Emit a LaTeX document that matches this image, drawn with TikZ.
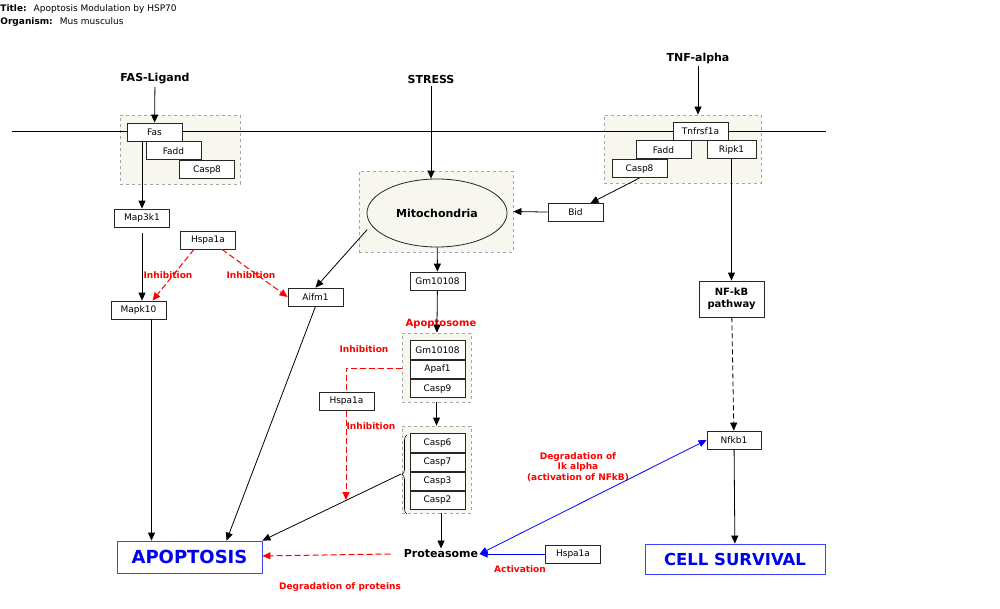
\documentclass[tikz,border=0pt]{standalone}
\usepackage{fontspec}
\setmainfont{DejaVu Sans}
\usetikzlibrary{arrows.meta,positioning,shapes.geometric,decorations.pathreplacing}
\definecolor{grpfill}{HTML}{F7F7F0}
\definecolor{outblue}{HTML}{0000EE}

\begin{document}
\begin{tikzpicture}
[x=1pt, y=-1pt, line width=0.8pt, font=\fontsize{9}{10}\selectfont,
>={Triangle[length=8pt,width=7pt]},
% STYLES
% The gene style is used for the small boxes with gene names
gene/.style={rectangle, draw=black!85, fill=white, minimum width=55pt, minimum height=18pt, inner sep=0pt},
% The complex style is used for the dashed grey groups
complex/.style={rectangle, draw=black!35, dashed, fill=grpfill, inner sep=0pt},
% The signal style is used for the inputs on top
signal/.style={inner sep=2pt, font=\bfseries\fontsize{11}{12}\selectfont},
% The remark style is used for the red texts
remark/.style={inner sep=1pt, text=red, align=center, font=\bfseries\fontsize{9}{10.5}\selectfont},
% The outcome style is used for the two blue results
outcome/.style={rectangle, draw=blue!75, text=outblue, inner sep=0pt, font=\bfseries\fontsize{17}{18}\selectfont},
inhib/.style={->, draw=red, line width=1pt, dash pattern=on 6pt off 3pt},
act/.style={blue}]

\useasboundingbox (0,0) rectangle (1000,608);

% Title
\node [anchor=west, inner sep=0pt, font=\fontsize{9}{10}\selectfont] (title) at (0,9) {\textbf{Title:}\hspace{7pt}Apoptosis Modulation by HSP70};
\node [anchor=west, inner sep=0pt, font=\fontsize{9}{10}\selectfont] (organism) at (0,22) {\textbf{Organism:}\hspace{7pt}Mus musculus};

% Draw complexes
\node [complex, minimum width=120pt, minimum height=69pt] (fasgrp) at (180,149.5) {};
\node [complex, minimum width=157pt, minimum height=68pt] (tnfgrp) at (682.5,149) {};
\node [complex, minimum width=154pt, minimum height=81pt] (mitogrp) at (436,211.5) {};
\node [complex, minimum width=69pt, minimum height=69pt] (apogrp) at (436.5,367.5) {};
\node [complex, minimum width=69pt, minimum height=87pt] (caspgrp) at (436.5,469.5) {};

% membrane
\coordinate (memL) at (12,131);
\coordinate (memR) at (826,131);
\draw (memL) -- (memR);

% Signals
\node [signal] (fasl) at (155,79) {FAS-Ligand};
\node [signal] (stress) at (431,79) {STRESS};
\node [signal] (tnfa) at (698,58) {TNF-alpha};

% FAS receptor
\node [gene] (fas) at (154.5,132) {Fas};
\node [gene, below=0pt of fas, xshift=19pt] (fadd1) {Fadd};
\node [gene, below=0pt of fadd1, xshift=33.5pt] (casp8a) {Casp8};

% TNF receptor
\node [gene] (tnfr) at (700.5,131) {Tnfrsf1a};
\node [gene, below=0pt of tnfr, xshift=-37pt] (fadd2) {Fadd};
\node [gene, minimum width=49pt, below=0pt of tnfr, xshift=31pt] (ripk) {Ripk1};
\node [gene, below=0pt of fadd2, xshift=-24pt] (casp8b) {Casp8};

% left branch
\node [gene] (map3k) at (142,218) {Map3k1};
\node [gene] (mapk) at (138.5,310) {Mapk10};
\node [gene] (hsp1) at (208,240) {Hspa1a};
\node [gene] (aifm) at (315.5,297) {Aifm1};

% mitochondria
\node [ellipse, draw=black!85, fill=grpfill, minimum width=140pt, minimum height=68pt, inner sep=0pt, font=\bfseries\fontsize{11}{12}\selectfont] (mito) at (437,213) {Mitochondria};
\node [gene] (bid) at (575.5,212.5) {Bid};
\node [gene] (gm) at (437.5,281) {Gm10108};

% apoptosome
\node [gene, minimum height=18.5pt] (gm2) at (437.5,350) {Gm10108};
\node [gene, minimum height=18.5pt, below=0pt of gm2] (apaf) {Apaf1};
\node [gene, minimum height=18.5pt, below=0pt of apaf] (casp9) {Casp9};

% caspases
\node [gene, minimum height=18.25pt] (casp6) at (437.5,443) {Casp6};
\node [gene, minimum height=18.25pt, below=0pt of casp6] (casp7) {Casp7};
\node [gene, minimum height=18.25pt, below=0pt of casp7] (casp3) {Casp3};
\node [gene, minimum height=18.25pt, below=0pt of casp3] (casp2) {Casp2};
\draw [line width=0.6pt, decorate, decoration={brace, amplitude=5pt}] (407,514) -- (407,435);
\coordinate (brtip) at (401,474);

% Hspa1a under the apoptosome, the dashed link runs behind it
\coordinate (inhbeg) at (402,368);
\coordinate (inhend) at (346,500);
\draw [inhib] (inhbeg) -| (inhend);
\node [gene] (hsp2) at (346.5,401.5) {Hspa1a};
\node [gene] (hsp3) at (573,554) {Hspa1a};
\node [inner sep=1pt, font=\bfseries\fontsize{11}{12}\selectfont] (prot) at (441,554) {Proteasome};

% right branch
\node [gene, minimum width=65pt, minimum height=36pt, align=center, font=\bfseries\fontsize{10}{12}\selectfont] (nfkbp) at (731.5,299) {NF-kB\\pathway};
\node [gene, minimum width=54pt] (nfkb1) at (734,440) {Nfkb1};

% outcomes
\node [outcome, minimum width=145pt, minimum height=32pt, font=\bfseries\fontsize{18}{19}\selectfont] (apop) at (189.5,557) {APOPTOSIS};
\node [outcome, minimum width=180pt, minimum height=30pt, font=\bfseries\fontsize{16.5}{18}\selectfont] (surv) at (735,559) {CELL SURVIVAL};

%%%%%%%%%%%%%%%
% red comments
\node [remark] (inh1) at (168,275) {Inhibition};
\node [remark] (inh2) at (251,275) {Inhibition};
\node [remark, font=\bfseries\fontsize{10}{11}\selectfont] (apolbl) at (441,324) {Apoptosome};
\node [remark] (inh3) at (364,349) {Inhibition};
\node [remark] (inh4) at (371,426) {Inhibition};
\node [remark] (degprot) at (340,587) {Degradation of proteins};
\node [remark] (actlbl) at (520,569) {Activation};
\node [remark] (degik) at (578,467) {Degradation of\\Ik alpha\\(activation of NFkB)};
%%%%%%%%%%%%%%%

% Draw the links
\draw [->] (fasl) -- (fas);
\draw [->] (stress.south) -- (stress.south |- mito.north);
\draw [->] (tnfa.south) -- (tnfa.south |- tnfgrp.north);
\draw [->] (map3k.north |- fas.south) -- (map3k);
\draw [->] ([yshift=-6pt]map3k.south) -- (map3k.south |- mapk.north);
\draw [->] ([xshift=-8pt]mito.195) -- (aifm.north);
\draw [->] (bid) -- (mitogrp.east);
\draw [->] (casp8b.south) -- ([xshift=15pt]bid.north);
\draw [->] (ripk) -- (nfkbp);
\draw [->, dash pattern=on 5pt off 3pt] (nfkbp) -- (nfkb1);
\draw [->] (nfkb1) -- (surv);
\draw [->] (mito) -- (gm);
\draw [->] (gm) -- (apogrp);
\draw [->] (apogrp) -- (caspgrp);
\draw [->] (caspgrp.south -| prot.north) -- (prot);
\draw [->] ([xshift=13pt]mapk.south) -- ([xshift=13pt]mapk.south |- apop.north);
\draw [->] (aifm.south) -- ([xshift=37pt]apop.north);
\draw [->] (brtip) -- (apop.north east);

\draw [inhib] ([xshift=-14pt]hsp1.south) -- ([xshift=14pt]mapk.north);
\draw [inhib] ([xshift=14pt]hsp1.south) -- (aifm.west);
\draw [inhib] ([xshift=-12pt]prot.west) -- (apop);

\draw [act, ->] (hsp3) -- (prot);
\draw [act, <->] (prot.east) -- (nfkb1.west);

\end{tikzpicture}
\end{document}
